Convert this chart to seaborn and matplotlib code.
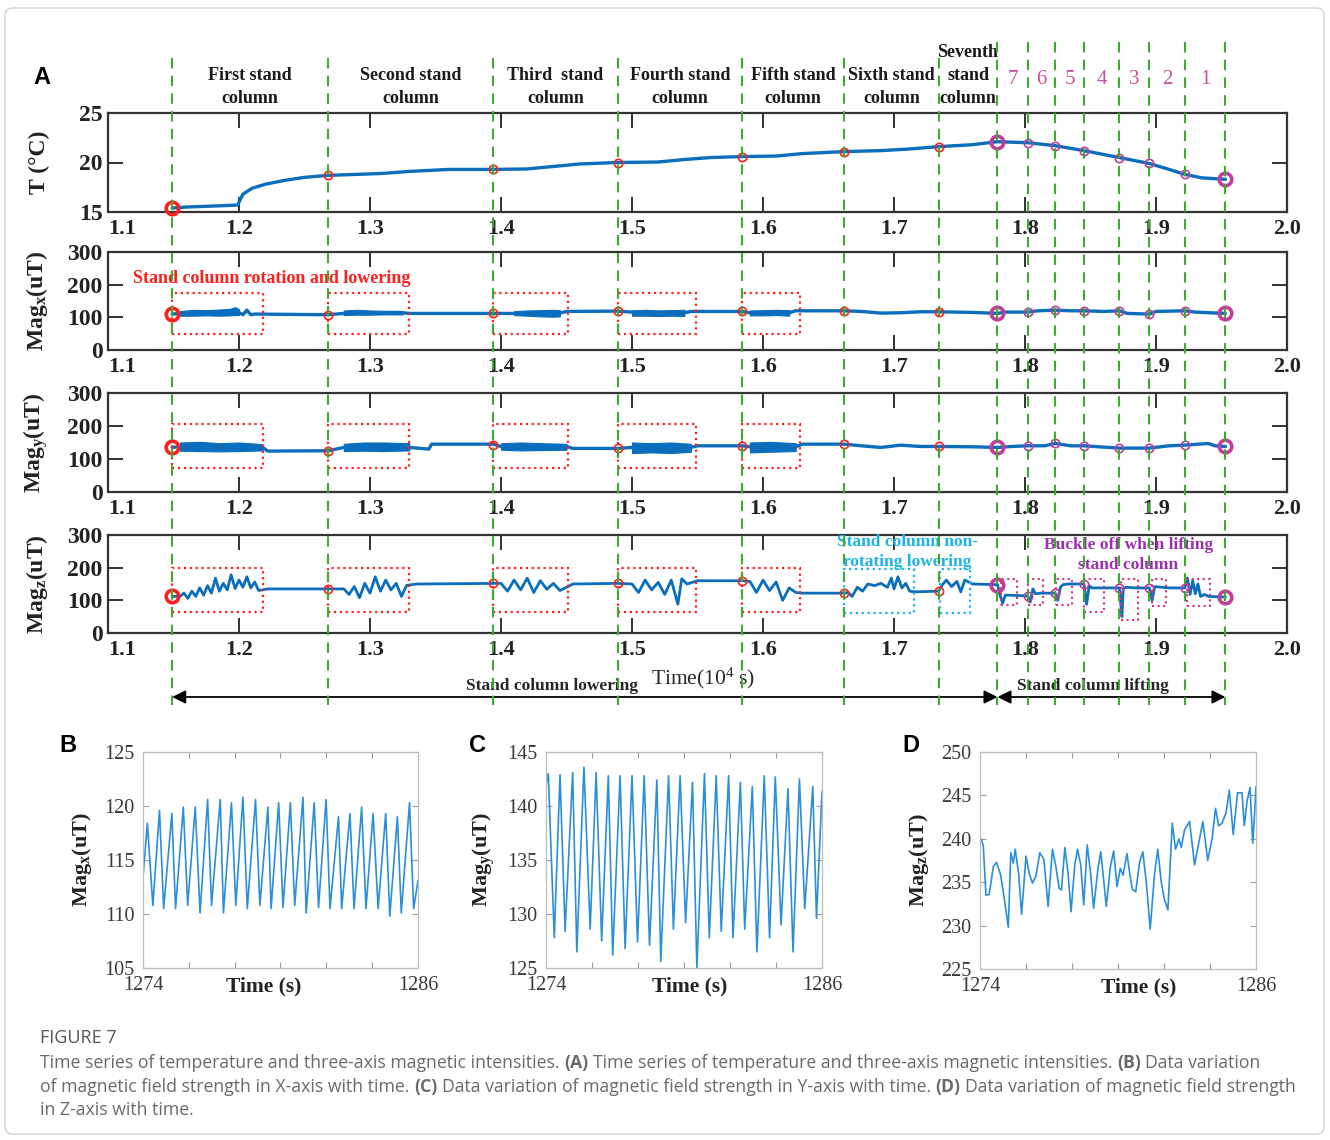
import matplotlib
matplotlib.use("Agg")
import matplotlib.pyplot as plt
import matplotlib.transforms as mtransforms
from matplotlib.lines import Line2D
from matplotlib.patches import Rectangle, FancyArrowPatch, FancyBboxPatch
import seaborn as sns


# 1. DATA

# time (10^4 s) of the green dashed event lines
lower_lines = [1.149, 1.268, 1.394, 1.489, 1.584, 1.662, 1.734]
lift_lines = [1.779, 1.802, 1.823, 1.845, 1.872, 1.895, 1.922, 1.953]
all_lines = lower_lines + lift_lines

column_labels = ["First stand\ncolumn", "Second stand\ncolumn", "Third  stand\ncolumn",
                 "Fourth stand\ncolumn", "Fifth stand\ncolumn", "Sixth stand\ncolumn",
                 "Seventh\nstand\ncolumn"]
lift_labels = ["7", "6", "5", "4", "3", "2", "1"]

xticks_a = [1.1, 1.2, 1.3, 1.4, 1.5, 1.6, 1.7, 1.8, 1.9, 2.0]

# temperature
t_T = [1.149, 1.16, 1.18, 1.199, 1.200, 1.203, 1.21, 1.22, 1.235, 1.25, 1.268, 1.29, 1.31,
       1.33, 1.36, 1.394, 1.42, 1.44, 1.46, 1.489, 1.52, 1.54, 1.56, 1.584, 1.61, 1.63, 1.662,
       1.69, 1.71, 1.734, 1.76, 1.779, 1.802, 1.823, 1.845, 1.872, 1.895, 1.91, 1.922, 1.935, 1.953]
temp = [15.4, 15.5, 15.6, 15.7, 16.0, 16.8, 17.4, 17.8, 18.2, 18.5, 18.7, 18.8, 18.9,
        19.1, 19.3, 19.3, 19.35, 19.6, 19.85, 20.0, 20.05, 20.3, 20.5, 20.6, 20.65, 20.9, 21.1,
        21.2, 21.35, 21.6, 21.8, 22.1, 22.0, 21.7, 21.2, 20.5, 19.9, 19.3, 18.8, 18.45, 18.3]
temp_marks = [15.4, 18.7, 19.3, 20.0, 20.6, 21.1, 21.6, 22.1, 22.0, 21.7, 21.2, 20.5, 19.9, 18.8, 18.3]

# Mag x baseline + rotation noise bands
t_mx = [1.149, 1.155, 1.200, 1.203, 1.206, 1.209, 1.212, 1.268, 1.28, 1.325, 1.33, 1.394, 1.41,
        1.445, 1.45, 1.489, 1.50, 1.54, 1.545, 1.584, 1.59, 1.62, 1.625, 1.662, 1.675, 1.69,
        1.705, 1.72, 1.734, 1.76, 1.779, 1.785, 1.802, 1.81, 1.823, 1.835, 1.845, 1.86, 1.872,
        1.878, 1.895, 1.90, 1.922, 1.93, 1.953]
mag_x = [110, 112, 115, 108, 122, 108, 110, 108, 112, 114, 112, 112, 112,
         113, 118, 119, 116, 114, 118, 118, 114, 114, 120, 120, 118, 113,
         114, 117, 117, 115, 112, 116, 116, 120, 122, 120, 120, 118, 120,
         112, 110, 118, 120, 116, 112]
mx_marks = [110, 108, 112, 120, 118, 120, 117, 112, 116, 122, 120, 120, 110, 120, 112]
mx_bands = [
    ([1.155, 1.165, 1.175, 1.185, 1.193, 1.197, 1.200], [105, 105, 106, 105, 106, 107, 107], [119, 123, 122, 124, 126, 131, 125]),
    ([1.28, 1.29, 1.30, 1.31, 1.32, 1.325], [107, 108, 108, 109, 109, 109], [121, 123, 121, 120, 120, 119]),
    ([1.41, 1.42, 1.43, 1.44, 1.445], [107, 105, 103, 102, 103], [119, 121, 122, 123, 122]),
    ([1.50, 1.51, 1.52, 1.53, 1.54], [105, 105, 104, 105, 104], [121, 123, 121, 122, 123]),
    ([1.59, 1.60, 1.61, 1.62], [106, 106, 107, 105], [121, 122, 123, 122]),
]

# Mag y
t_my = [1.149, 1.155, 1.218, 1.222, 1.268, 1.28, 1.33, 1.345, 1.347, 1.394, 1.40, 1.45, 1.455,
        1.489, 1.50, 1.545, 1.55, 1.584, 1.59, 1.625, 1.63, 1.662, 1.675, 1.69, 1.705, 1.72,
        1.734, 1.76, 1.779, 1.79, 1.802, 1.815, 1.823, 1.835, 1.845, 1.86, 1.872, 1.885, 1.895,
        1.91, 1.922, 1.94, 1.945, 1.953]
mag_y = [135, 138, 135, 124, 125, 135, 135, 130, 145, 145, 138, 138, 132,
         132, 135, 135, 140, 140, 137, 137, 145, 145, 140, 135, 142, 138,
         138, 137, 135, 138, 140, 140, 147, 140, 140, 136, 133, 133, 133,
         140, 142, 147, 140, 138]
my_marks = [135, 125, 142, 132, 138, 145, 138, 135, 140, 147, 140, 133, 133, 142, 138]
my_bands = [
    ([1.155, 1.17, 1.185, 1.20, 1.218], [125, 124, 123, 124, 126], [150, 152, 148, 150, 145]),
    ([1.28, 1.295, 1.31, 1.33], [124, 125, 124, 126], [146, 150, 150, 148]),
    ([1.40, 1.415, 1.43, 1.45], [128, 126, 127, 128], [148, 150, 148, 146]),
    ([1.50, 1.515, 1.53, 1.545], [118, 120, 118, 122], [150, 148, 150, 146]),
    ([1.59, 1.605, 1.625], [120, 122, 124], [150, 152, 148]),
]

# Mag z
t_mz = [1.149,
        1.155, 1.158, 1.161, 1.164, 1.167, 1.170, 1.173, 1.176, 1.179, 1.182, 1.185, 1.188, 1.191,
        1.194, 1.197, 1.200, 1.203, 1.206, 1.209, 1.212, 1.215, 1.222, 1.268,
        1.28, 1.284, 1.288, 1.292, 1.296, 1.30, 1.304, 1.308, 1.312, 1.316, 1.320, 1.324, 1.328,
        1.336, 1.394,
        1.40, 1.405, 1.41, 1.415, 1.42, 1.425, 1.43, 1.435, 1.44, 1.445, 1.455, 1.489,
        1.50, 1.505, 1.51, 1.515, 1.52, 1.525, 1.53, 1.535, 1.538, 1.542, 1.55, 1.584,
        1.59, 1.595, 1.60, 1.605, 1.61, 1.615, 1.62, 1.625, 1.63, 1.662,
        1.665, 1.668, 1.672, 1.676, 1.68, 1.685, 1.69, 1.695, 1.698, 1.70, 1.703, 1.706, 1.709,
        1.712, 1.716, 1.734,
        1.737, 1.740, 1.744, 1.748, 1.751, 1.754, 1.76, 1.779,
        1.781, 1.783, 1.785, 1.80, 1.802, 1.804, 1.806, 1.808, 1.812, 1.823, 1.825, 1.827, 1.829,
        1.833, 1.845, 1.847, 1.849, 1.851, 1.86, 1.872, 1.874, 1.875, 1.877, 1.885, 1.895, 1.897,
        1.899, 1.91, 1.922, 1.924, 1.926, 1.928, 1.930, 1.932, 1.934, 1.937, 1.940, 1.953]
mag_z = [112,
         112, 122, 106, 128, 112, 138, 116, 145, 122, 168, 128, 152, 132,
         178, 136, 162, 140, 172, 138, 156, 130, 135, 135,
         135, 118, 142, 108, 152, 122, 172, 128, 162, 132, 152, 112, 146,
         150, 152,
         152, 128, 162, 132, 168, 124, 160, 134, 152, 130, 150, 152,
         150, 124, 162, 132, 155, 118, 162, 88, 166, 150, 160, 160,
         158, 124, 162, 130, 156, 100, 138, 124, 122, 122,
         124, 112, 140, 128, 150, 145, 152, 140, 168, 135, 172, 138, 152,
         128, 126, 128,
         148, 162, 142, 158, 126, 162, 150, 148,
         115, 92, 116, 114, 113, 95, 135, 120, 122, 122, 100, 140, 148,
         150, 150, 88, 145, 138, 138, 138, 50, 135, 140, 138, 138, 100,
         142, 138, 138, 168, 118, 160, 120, 150, 112, 118, 112, 110]
mz_marks = [112, 135, 152, 152, 160, 122, 128, 148, 113, 122, 150, 138, 138, 138, 110]

# annotation boxes (time start, time end)
rot_boxes = [(1.149, 1.218), (1.268, 1.330), (1.394, 1.451), (1.489, 1.549), (1.584, 1.628)]
nonrot_boxes = [(1.662, 1.715), (1.735, 1.758)]
lift_boxes = [(1.782, 1.794, 86), (1.802, 1.814, 86), (1.824, 1.836, 86), (1.845, 1.860, 64),
              (1.873, 1.886, 40), (1.897, 1.908, 83), (1.924, 1.941, 83)]

# panel B: Mag x zoom (s)
t_b = [1274.00, 1274.19, 1274.43, 1274.72, 1274.90, 1275.26, 1275.42, 1275.76, 1275.95, 1276.28,
       1276.49, 1276.82, 1276.99, 1277.37, 1277.51, 1277.86, 1278.05, 1278.36, 1278.55, 1278.91,
       1279.10, 1279.45, 1279.59, 1279.92, 1280.11, 1280.43, 1280.62, 1280.98, 1281.12, 1281.47,
       1281.66, 1281.99, 1282.16, 1282.53, 1282.67, 1283.03, 1283.21, 1283.54, 1283.73, 1284.04,
       1284.26, 1284.59, 1284.77, 1285.10, 1285.27, 1285.63, 1285.81, 1286.00]
mag_b = [113.4, 118.4, 110.8, 119.6, 110.5, 119.3, 110.5, 119.9, 110.8, 119.9,
         110.1, 120.6, 110.8, 120.6, 110.1, 120.3, 110.8, 120.8, 110.5, 120.6,
         110.8, 119.9, 110.5, 120.3, 110.6, 120.3, 110.8, 120.8, 110.1, 120.3,
         110.6, 120.6, 110.5, 119.0, 110.5, 119.3, 110.5, 119.9, 110.5, 119.3,
         110.5, 119.3, 109.8, 119.0, 110.1, 120.3, 110.5, 113.1]

# panel C: Mag y zoom
t_c = [1274.00, 1274.10, 1274.36, 1274.61, 1274.83, 1275.16, 1275.34, 1275.65, 1275.92, 1276.18,
       1276.42, 1276.71, 1276.90, 1277.22, 1277.44, 1277.74, 1277.98, 1278.27, 1278.50, 1278.82,
       1278.99, 1279.33, 1279.54, 1279.83, 1280.07, 1280.37, 1280.56, 1280.89, 1281.10, 1281.40,
       1281.62, 1281.94, 1282.13, 1282.45, 1282.64, 1282.97, 1283.17, 1283.49, 1283.72, 1283.97,
       1284.22, 1284.52, 1284.74, 1285.02, 1285.25, 1285.60, 1285.76, 1286.00]
mag_c = [141.9, 143.0, 127.8, 142.9, 128.4, 143.1, 126.5, 143.6, 128.6, 143.1,
         127.5, 142.8, 126.2, 142.8, 126.8, 142.8, 127.4, 142.8, 127.1, 142.4,
         125.6, 142.8, 128.6, 142.8, 129.2, 142.2, 125.0, 143.0, 127.8, 142.8,
         128.4, 142.8, 127.8, 142.2, 128.6, 141.8, 126.5, 142.8, 127.8, 142.7,
         129.0, 141.6, 126.5, 142.5, 130.5, 141.8, 129.6, 141.3]

# panel D: Mag z zoom
t_d = [1274.00, 1274.14, 1274.26, 1274.40, 1274.58, 1274.72, 1274.90, 1275.04, 1275.23, 1275.34,
       1275.45, 1275.53, 1275.68, 1275.81, 1276.00, 1276.14, 1276.28, 1276.43, 1276.60, 1276.78,
       1276.96, 1277.15, 1277.30, 1277.44, 1277.54, 1277.69, 1277.83, 1277.96, 1278.12, 1278.24,
       1278.38, 1278.51, 1278.66, 1278.81, 1278.94, 1279.13, 1279.25, 1279.38, 1279.49, 1279.67,
       1279.81, 1279.96, 1280.10, 1280.22, 1280.39, 1280.51, 1280.62, 1280.77, 1280.94, 1281.08,
       1281.23, 1281.40, 1281.59, 1281.73, 1281.88, 1282.02, 1282.17, 1282.36, 1282.50, 1282.65,
       1282.75, 1282.89, 1283.11, 1283.33, 1283.51, 1283.69, 1283.90, 1284.09, 1284.24, 1284.38,
       1284.52, 1284.70, 1284.84, 1285.01, 1285.20, 1285.39, 1285.49, 1285.61, 1285.74, 1285.86,
       1285.94, 1286.00]
mag_d = [240.2, 239.3, 233.5, 233.6, 236.8, 237.3, 235.8, 233.4, 229.8, 238.4,
         237.2, 238.8, 236.0, 231.3, 238.0, 236.0, 234.9, 235.7, 238.4, 237.6,
         232.2, 238.8, 236.8, 234.3, 234.1, 239.0, 236.0, 231.6, 237.0, 238.8,
         237.0, 232.4, 239.3, 236.0, 232.0, 236.6, 238.5, 235.2, 232.2, 236.8,
         238.6, 234.5, 236.6, 235.8, 238.3, 236.0, 234.2, 233.9, 237.3, 238.5,
         235.0, 229.6, 236.0, 238.8, 235.0, 233.0, 231.8, 241.8, 238.8, 240.0,
         239.0, 241.0, 242.0, 237.0, 239.5, 242.0, 237.5, 240.0, 243.5, 241.5,
         241.8, 243.0, 245.6, 240.5, 245.3, 245.3, 241.5, 244.3, 245.9, 239.5,
         243.0, 246.0]


# 2. STYLE

sns.set_theme(style="ticks")
plt.rcParams["font.family"] = ["Liberation Serif", "DejaVu Serif"]
plt.rcParams["mathtext.fontset"] = "custom"
plt.rcParams["mathtext.rm"] = "Liberation Serif"
plt.rcParams["mathtext.bf"] = "Liberation Serif:bold"
plt.rcParams["mathtext.it"] = "Liberation Serif:italic"

BLUE = "#0a6ebd"
BLUE2 = "#2a8fd8"
RED = "#ff1f1f"
MAG = "#c23c9e"
PINK = "#d6317f"
CYAN = "#1ab4e8"
PURPLE = "#9b2fae"
GREEN = "#3dab2f"

W, H = 1330, 1140
fig = plt.figure(figsize=(13.3, 11.4), dpi=100)
fig.patch.set_facecolor("white")


def fx(px):
    return px / W


def fy(py):
    return 1 - py / H


def axes_px(left, top, right, bottom):
    return fig.add_axes([fx(left), fy(bottom), fx(right) - fx(left), (bottom - top) / H])


def style_a(ax, ylim, yticks, ylabel):
    ax.set_xlim(1.1, 2.0)
    ax.set_ylim(*ylim)
    ax.set_xticks(xticks_a)
    ax.set_xticklabels([f"{v:.1f}" for v in xticks_a], fontweight="bold", fontsize=16)
    # first x label sits just right of the corner so it clears the lowest y label
    first = ax.get_xticklabels()[0]
    first.set_horizontalalignment("left")
    ax.set_yticks(yticks)
    ax.set_yticklabels([str(v) for v in yticks], fontweight="bold", fontsize=17)
    ax.tick_params(direction="in", length=11, width=1.3, top=True, right=True,
                   colors="#222222")
    ax.tick_params(axis="x", pad=5)
    ax.tick_params(axis="y", pad=4)
    for s in ax.spines.values():
        s.set_linewidth(1.6)
        s.set_color("#333333")
    ax.set_xlabel("")
    ax.set_ylabel(ylabel, fontweight="bold", fontsize=17, color="#222222")
    ax.yaxis.set_label_coords(-0.049, 0.5)


def add_marks(ax, vals):
    for i, (x, v) in enumerate(zip(all_lines, vals)):
        col = RED if i < len(lower_lines) else MAG
        big = i in (0, len(lower_lines), len(all_lines) - 1)
        ax.plot(x, v, "o", mfc="none", mec=col, ms=9 if big else 6,
                mew=2.6 if big else 1.2, zorder=4, clip_on=False)


def add_boxes(ax, boxes, y0, y1, color):
    for b in boxes:
        ax.add_patch(Rectangle((b[0], y0), b[1] - b[0], y1 - y0, fill=False,
                               ec=color, ls=":", lw=1.6, zorder=5))


# 3. PANEL A

axT = axes_px(108, 113, 1287, 212)
sns.lineplot(x=t_T, y=temp, ax=axT, color=BLUE, lw=2.4, sort=False, estimator=None)
style_a(axT, (15, 25), [15, 20, 25], "T (°C)")
add_marks(axT, temp_marks)

axX = axes_px(108, 252, 1287, 350)
sns.lineplot(x=t_mx, y=mag_x, ax=axX, color=BLUE, lw=2.4, sort=False, estimator=None)
for t, lo, hi in mx_bands:
    axX.fill_between(t, lo, hi, color=BLUE, lw=0.8)
style_a(axX, (0, 300), [0, 100, 200, 300], r"Mag$_{\mathbf{x}}$(uT)")
add_marks(axX, mx_marks)
add_boxes(axX, rot_boxes, 50, 175, RED)
axX.text(1.119, 220, "Stand column rotation and lowering", color=RED, fontsize=13,
         fontweight="bold", ha="left", va="center")

axY = axes_px(108, 393, 1287, 492)
sns.lineplot(x=t_my, y=mag_y, ax=axY, color=BLUE, lw=2.4, sort=False, estimator=None)
for t, lo, hi in my_bands:
    axY.fill_between(t, lo, hi, color=BLUE, lw=0.8)
style_a(axY, (0, 300), [0, 100, 200, 300], r"Mag$_{\mathbf{y}}$(uT)")
add_marks(axY, my_marks)
add_boxes(axY, rot_boxes, 72, 205, RED)

axZ = axes_px(108, 535, 1287, 633)
sns.lineplot(x=t_mz, y=mag_z, ax=axZ, color=BLUE, lw=2.0, sort=False, estimator=None)
style_a(axZ, (0, 300), [0, 100, 200, 300], r"Mag$_{\mathbf{z}}$(uT)")
add_marks(axZ, mz_marks)
add_boxes(axZ, rot_boxes, 65, 200, RED)
add_boxes(axZ, nonrot_boxes, 62, 195, CYAN)
for x0, x1, y0 in lift_boxes:
    axZ.add_patch(Rectangle((x0, y0), x1 - x0, 165 - y0, fill=False, ec=PINK,
                            ls=":", lw=1.5, zorder=5))
axZ.text(1.71, 248, "Stand column non-\nrotating lowering", color=CYAN, fontsize=12.5,
         fontweight="bold", ha="center", va="center", linespacing=1.3, zorder=6)
axZ.text(1.879, 238, "Buckle off when lifting\nstand column", color=PURPLE, fontsize=12.5,
         fontweight="bold", ha="center", va="center", linespacing=1.3, zorder=6)

# event lines, labels and arrows spanning all four strips
trans = mtransforms.blended_transform_factory(axT.transData, fig.transFigure)
for x in all_lines:
    top = 58 if x in lower_lines else 42
    fig.add_artist(Line2D([x, x], [fy(top), fy(705)], transform=trans, color=GREEN,
                          lw=1.5, ls=(0, (5, 3.5)), zorder=6))

col_edges = all_lines[:len(column_labels) + 1]
for a, b, lab in zip(col_edges[:-1], col_edges[1:], column_labels):
    fig.text((a + b) / 2, fy(107), lab, transform=trans, ha="center", va="bottom",
             fontsize=13, fontweight="bold", linespacing=1.45, color="#1a1a1a")
for a, b, lab in zip(lift_lines[:-1], lift_lines[1:], lift_labels):
    fig.text((a + b) / 2, fy(79), lab, transform=trans, ha="center", va="center",
             fontsize=15, color="#c8509a")

for a, b in [(lower_lines[0], lift_lines[0]), (lift_lines[0], lift_lines[-1])]:
    fig.add_artist(FancyArrowPatch((a, fy(697)), (b, fy(697)), transform=trans,
                                   arrowstyle="<|-|>", mutation_scale=20, color="black",
                                   lw=1.3, shrinkA=0, shrinkB=0, zorder=5))

fig.text(fx(552), fy(686), "Stand column lowering", ha="center", va="center",
         fontsize=12.5, fontweight="bold")
fig.text(fx(1093), fy(686), "Stand column lifting", ha="center", va="center",
         fontsize=12.5, fontweight="bold")
fig.text(fx(703), fy(678), "Time(10$^4$ s)", ha="center", va="center", fontsize=15.5)


# 4. PANELS B, C, D

def style_small(ax, ylim, yticks, ylabel, tx):
    ax.set_xlim(1274, 1286)
    ax.set_ylim(*ylim)
    ticks = [1274, 1276, 1278, 1280, 1282, 1284, 1286]
    ax.set_xticks(ticks)
    ax.set_xticklabels(["1274", "", "", "", "", "", "1286"])
    ax.set_yticks(yticks)
    ax.set_yticklabels([str(v) for v in yticks])
    ax.tick_params(direction="in", length=4, width=0.8, color="#9a9a9a", labelcolor="#3a3a3a",
                   labelsize=14.5, top=True, right=True, pad=6)
    for s in ax.spines.values():
        s.set_linewidth(0.9)
        s.set_color("#bdbdbd")
    ax.set_xlabel("")
    ax.set_ylabel(ylabel, fontweight="bold", fontsize=16, color="#222222")
    ax.yaxis.set_label_coords(-0.178, 0.5)
    ax.text(tx, -0.085, "Time (s)", transform=ax.transAxes, ha="center", va="center",
            fontweight="bold", fontsize=15.5, color="#222222")


axB = axes_px(143, 752, 418, 968)
sns.lineplot(x=t_b, y=mag_b, ax=axB, color=BLUE2, lw=1.2, sort=False, estimator=None)
style_small(axB, (105, 125), [105, 110, 115, 120, 125], r"Mag$_{\mathbf{x}}$(uT)", 0.44)

axC = axes_px(546, 752, 822, 968)
sns.lineplot(x=t_c, y=mag_c, ax=axC, color=BLUE2, lw=1.2, sort=False, estimator=None)
style_small(axC, (125, 145), [125, 130, 135, 140, 145], r"Mag$_{\mathbf{y}}$(uT)", 0.52)

axD = axes_px(980, 752, 1256, 969)
sns.lineplot(x=t_d, y=mag_d, ax=axD, color=BLUE2, lw=1.2, sort=False, estimator=None)
style_small(axD, (225, 250), [225, 230, 235, 240, 245, 250], r"Mag$_{\mathbf{z}}$(uT)", 0.575)

# panel letters
for lab, px, py in [("A", 42, 78), ("B", 68, 745), ("C", 478, 745), ("D", 911, 745)]:
    fig.text(fx(px), fy(py), lab, ha="center", va="center", fontsize=17, fontweight="bold",
             family=["Liberation Sans", "DejaVu Sans"], color="black")


# 5. CAPTION

SANS = ["Open Sans", "DejaVu Sans"]
CAP = 12.7
renderer = fig.canvas.get_renderer()
probe1 = fig.text(0, 0, "a a", fontsize=CAP, family=SANS)
probe2 = fig.text(0, 0, "aa", fontsize=CAP, family=SANS)
space_w = (probe1.get_window_extent(renderer).width - probe2.get_window_extent(renderer).width) / W
probe1.remove()
probe2.remove()


def rich_line(runs, y):
    x = fx(40)
    for s, bold in runs:
        t = fig.text(x, y, s, fontsize=CAP, family=SANS, color="#6a6a6a", va="center",
                     ha="left", fontweight="bold" if bold else "normal")
        x += t.get_window_extent(renderer).width / W + space_w


fig.text(fx(40), fy(1038), "FIGURE 7", fontsize=13, family=SANS, color="#555555",
         va="center", ha="left")
rich_line([("Time series of temperature and three-axis magnetic intensities.", False), ("(A)", True),
           ("Time series of temperature and three-axis magnetic intensities.", False), ("(B)", True),
           ("Data variation", False)], fy(1063))
rich_line([("of magnetic field strength in X-axis with time.", False), ("(C)", True),
           ("Data variation of magnetic field strength in Y-axis with time.", False), ("(D)", True),
           ("Data variation of magnetic field strength", False)], fy(1087))
rich_line([("in Z-axis with time.", False)], fy(1110))

# light frame around the whole figure
fig.add_artist(FancyBboxPatch((fx(5), fy(1134)), fx(1319), (1134 - 8) / H,
                              boxstyle="round,pad=0,rounding_size=0.006",
                              transform=fig.transFigure, fill=False, ec="#d4d4d4", lw=1.0))

fig.savefig("out.png", dpi=100, facecolor="white")
